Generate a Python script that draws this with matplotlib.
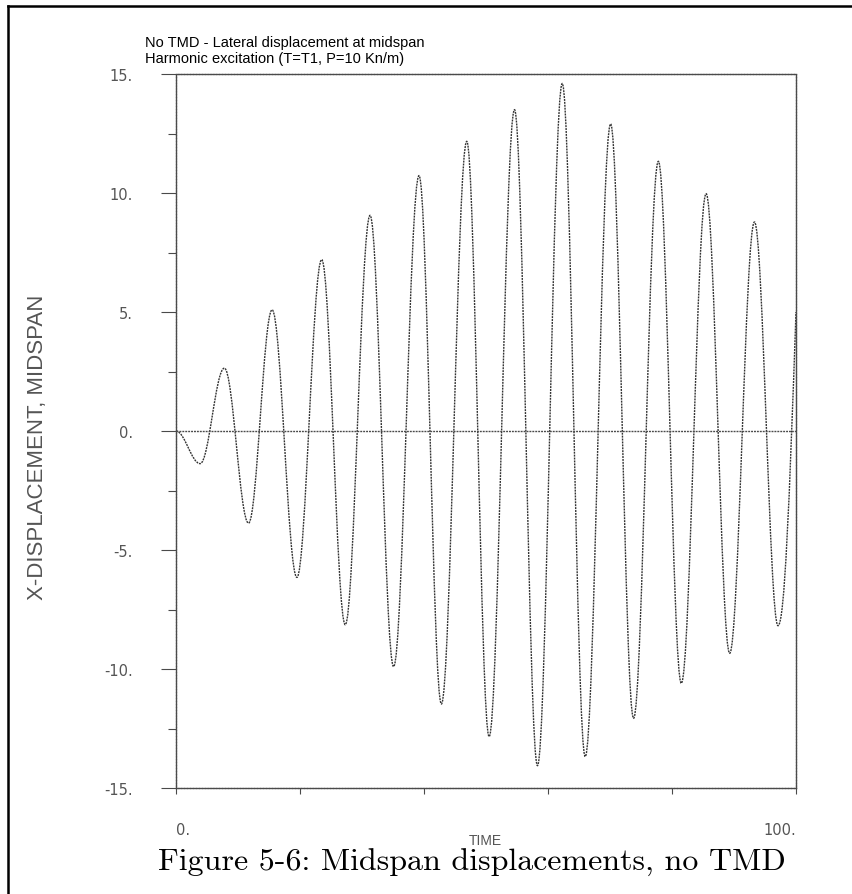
import matplotlib
matplotlib.use("Agg")
import matplotlib.pyplot as plt
from matplotlib.path import Path
from matplotlib.patches import PathPatch
from matplotlib.lines import Line2D

# extrema (time, lateral displacement at midspan)
ext_time = [0.0, 3.9, 7.8, 11.7, 15.5, 19.5, 23.5, 27.3, 31.3, 35.1, 39.2, 42.8, 46.9,
            50.5, 54.6, 58.3, 62.3, 66.0, 70.1, 73.8, 77.8, 81.5, 85.5, 89.3, 93.3, 97.1, 100.0]
ext_disp = [0.0, -1.37, 2.64, -3.87, 5.09, -6.15, 7.2, -8.14, 9.06, -9.9, 10.73, -11.47, 12.17,
            -12.84, 13.5, -14.06, 14.6, -13.68, 12.9, -12.07, 11.33, -10.6, 9.97, -9.34, 8.78, -8.18, 5.0]

y_ticks = [-15, -10, -5, 0, 5, 10, 15]
y_labels = ["-15.", "-10.", "-5.", "0.", "5.", "10.", "15."]
y_minor = [-12.5, -7.5, -2.5, 2.5, 7.5, 12.5]
x_ticks = [0, 20, 40, 60, 80, 100]
x_labels = ["0.", "", "", "", "", "100."]

gray = "#555555"
line_col = "#4a4a4a"
dots = (0, (1.4, 0.7))

fig = plt.figure(figsize=(8.53, 8.95), dpi=100)
ax = fig.add_axes([176 / 853, 1 - 789 / 895, 620 / 853, 714 / 895])

# smooth curve through the extrema (bezier segments, flat at the peaks)
k = 0.364
verts = [(ext_time[0], ext_disp[0])]
codes = [Path.MOVETO]
for i in range(1, len(ext_time)):
    t0, y0 = ext_time[i - 1], ext_disp[i - 1]
    t1, y1 = ext_time[i], ext_disp[i]
    dt = t1 - t0
    c2y = y1 if i < len(ext_time) - 1 else y1 - 0.6 * (y1 - y0)
    verts += [(t0 + k * dt, y0), (t1 - k * dt, c2y), (t1, y1)]
    codes += [Path.CURVE4] * 3
ax.add_patch(PathPatch(Path(verts, codes), fill=False, edgecolor="#333333",
                       lw=1.0, linestyle=dots))

ax.axhline(0, color=line_col, lw=1.0, linestyle=dots)

ax.set_xlim(0, 100)
ax.set_ylim(-15, 15)
for s in ax.spines.values():
    s.set_linestyle(dots)
    s.set_color(line_col)
    s.set_linewidth(1.0)

ax.set_yticks(y_ticks)
ax.set_yticklabels(y_labels)
ax.set_yticks(y_minor, minor=True)
ax.set_xticks(x_ticks)
ax.set_xticklabels(x_labels)
ax.tick_params(axis="y", which="major", length=11, width=0.8, color=line_col,
               pad=20, labelsize=10.5, labelcolor=gray)
ax.tick_params(axis="y", which="minor", length=6, width=0.8, color=line_col)
ax.tick_params(axis="x", which="major", length=4.5, width=0.8, color=line_col,
               pad=20, labelsize=10.5, labelcolor=gray)
xl = ax.get_xticklabels()
xl[0].set_ha("left")
xl[-1].set_ha("right")

fig.text(145 / 853, 1 - 47 / 895, "No TMD - Lateral displacement at midspan",
         fontsize=10.5, family="Liberation Sans", va="baseline", ha="left")
fig.text(145 / 853, 1 - 63 / 895, "Harmonic excitation (T=T1, P=10 Kn/m)",
         fontsize=10.5, family="Liberation Sans", va="baseline", ha="left")

fig.text(38 / 853, 1 - 447 / 895, "X-DISPLACEMENT, MIDSPAN", rotation=90,
         fontsize=16, family="Liberation Sans", color=gray, ha="center", va="center")
fig.text(485 / 853, 1 - 841 / 895, "TIME", fontsize=10, family="Liberation Sans",
         color=gray, ha="center", va="center")

fig.text(158 / 853, 1 - 871 / 895, "Figure 5-6: Midspan displacements, no TMD",
         fontsize=23, family="cmr10", ha="left", va="baseline")

# frame lines of the scanned page
fig.add_artist(Line2D([8 / 853, 8 / 853], [0, 1 - 7 / 895], transform=fig.transFigure,
                      color="black", lw=1.8))
fig.add_artist(Line2D([8 / 853, 1], [1 - 7 / 895, 1 - 7 / 895], transform=fig.transFigure,
                      color="black", lw=1.8))

fig.savefig("out.png", dpi=100)
